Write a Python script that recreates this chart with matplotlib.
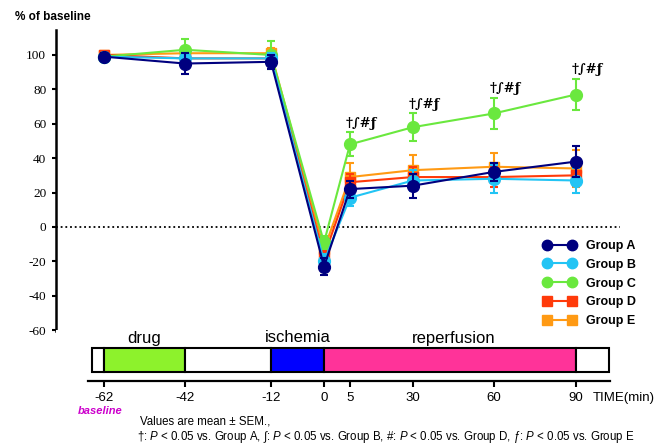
import numpy as np
import matplotlib
matplotlib.use("Agg")
import matplotlib.pyplot as plt
from matplotlib.patches import Rectangle
from matplotlib.lines import Line2D

plt.rcParams['font.family'] = ['Liberation Sans', 'DejaVu Sans']
plt.rcParams['mathtext.fontset'] = 'custom'
plt.rcParams['mathtext.it'] = 'Liberation Sans:italic'
plt.rcParams['mathtext.rm'] = 'Liberation Sans'
plt.rcParams['axes.unicode_minus'] = False

###############################################################################
# Data
###############################################################################
times = [-62, -42, -12, 0, 5, 30, 60, 90]

groupNames = ['Group A', 'Group B', 'Group C', 'Group D', 'Group E']
meanA = [99, 95, 96, -23, 22, 24, 32, 38]
semA = [2, 6, 4, 5, 5, 7, 5, 9]
meanB = [99, 98, 98, -20, 17, 27, 28, 27]
semB = [2, 3, 3, 4, 5, 6, 8, 7]
meanC = [99, 103, 100, -9, 48, 58, 66, 77]
semC = [2, 6, 8, 4, 7, 8, 9, 9]
meanD = [100, 98, 98, -17, 26, 29, 29, 30]
semD = [2, 3, 3, 4, 5, 6, 6, 6]
meanE = [100, 101, 101, -13, 29, 33, 35, 34]
semE = [2, 3, 3, 4, 8, 9, 8, 11]

sigTimes = [5, 30, 60, 90]
sigLabel = "\u2020\u222b#\u0192"

yTicks = [-60, -40, -20, 0, 20, 40, 60, 80, 100]

#Protocol bar: phase names and their edges in minutes
phaseNames = ['', 'drug', '', 'ischemia', 'reperfusion', '']
phaseEdges = [-65, -62, -42, -12, 0, 90, 102]

###############################################################################
# Style
###############################################################################
W, H = 665, 446
def fx(px):
    return px / W
def fy(px):
    return 1 - px / H

groupCols = ['#00007f', '#22c4f4', '#6ae83e', '#ff3a0a', '#ff9a14']
groupMarks = ['o', 'o', 'o', 's', 's']
phaseCols = ['white', '#8df22c', 'white', '#0000ff', '#ff3399', 'white']

#The time axis is not linear: knots of minutes vs pixels along the axis
T_KNOTS = [-74, -62, -42, -12, 0, 5, 30, 60, 90, 106]
U_KNOTS = [0, 48, 129, 215, 268, 294, 357, 438, 520, 564]

def fwd(t):
    return np.interp(t, T_KNOTS, U_KNOTS)
def inv(u):
    return np.interp(u, U_KNOTS, T_KNOTS)

fig = plt.figure(figsize=(6.65, 4.46), dpi=100)

###############################################################################
# Top panel
###############################################################################
ax = fig.add_axes([fx(56), fy(331), fx(620) - fx(56), (331 - 30) / H])
ax.set_xscale('function', functions=(fwd, inv))
ax.set_xlim(-74, 106)
ax.set_ylim(-60.5, 114.5)

means = [meanA, meanB, meanC, meanD, meanE]
sems = [semA, semB, semC, semD, semE]
order = [4, 3, 2, 1, 0]
for k, i in enumerate(order):
    ax.errorbar(times, means[i], yerr=sems[i],
                color=groupCols[i], marker=groupMarks[i],
                ms=8.5 if groupMarks[i] == 'o' else 7.5,
                mec=groupCols[i], lw=1.5, elinewidth=1.5,
                capsize=3, capthick=1.5, zorder=3 + k)

ax.axhline(0, color='black', lw=1.3, linestyle=(0, (1, 1.6)), zorder=2)

for t in sigTimes:
    j = times.index(t)
    ax.annotate(sigLabel, (t, meanC[j] + semC[j]),
                xytext=(-3, 2), textcoords='offset points',
                ha='left', va='bottom', fontsize=9.5,
                family=['DejaVu Serif'], weight='bold')

for s in ['top', 'right', 'bottom']:
    ax.spines[s].set_visible(False)
ax.spines['left'].set_linewidth(1.8)
ax.set_xticks([])
ax.set_yticks(yTicks)
ax.tick_params(axis='y', direction='out', length=3, width=1.5, pad=4)
for lab in ax.get_yticklabels():
    lab.set_family(['Liberation Serif', 'DejaVu Serif'])
    lab.set_fontsize(9.5)

fig.text(fx(15), fy(17), "% of baseline", ha='left', va='center',
         fontsize=8.5, weight='bold')

handles = [Line2D([], [], color=groupCols[i], marker=groupMarks[i],
                  ms=7.5 if groupMarks[i] == 'o' else 6.5,
                  mec=groupCols[i], lw=1.5) for i in range(5)]
ax.legend(handles, groupNames, loc='upper left',
          bbox_to_anchor=(fx(543), fy(240)), bbox_transform=fig.transFigure,
          frameon=False, numpoints=2, handlelength=2.6, handletextpad=0.8,
          labelspacing=0.54, borderpad=0, borderaxespad=0,
          prop={'weight': 'bold', 'size': 9})

###############################################################################
# Bottom panel: protocol bar and time axis
###############################################################################
axb = fig.add_axes([fx(56), fy(381), fx(620) - fx(56), (381 - 330) / H])
axb.set_xscale('function', functions=(fwd, inv))
axb.set_xlim(-74, 106)
axb.set_ylim(0, 51)

for n in range(len(phaseNames)):
    x0, x1 = phaseEdges[n], phaseEdges[n + 1]
    axb.add_patch(Rectangle((x0, 9), x1 - x0, 24, facecolor=phaseCols[n],
                            edgecolor='black', lw=1.5, zorder=2))
    if phaseNames[n]:
        axb.text((x0 + x1) / 2, 43, phaseNames[n], ha='center',
                 va='center', fontsize=12)

for s in ['top', 'right', 'left']:
    axb.spines[s].set_visible(False)
axb.spines['bottom'].set_bounds(-66, 102.5)
axb.spines['bottom'].set_linewidth(1.6)
axb.set_yticks([])
axb.set_xticks(times)
axb.set_xticklabels([str(t) for t in times])
axb.tick_params(axis='x', direction='out', length=4, width=1.5, pad=4,
                labelsize=9.5)

fig.text(fx(593), fy(398), "TIME(min)", ha='left', va='center', fontsize=9.5)
fig.text(fx(100), fy(411), "baseline", ha='center', va='center',
         fontsize=8, color='#cc00cc', weight='bold', style='italic')

fig.text(fx(140), fy(421), "Values are mean \u00b1 SEM.,", ha='left',
         va='center', fontsize=8.3)
fig.text(fx(137), fy(437),
         "\u2020: $P$ < 0.05 vs. Group A, \u222b: $P$ < 0.05 vs. Group B, "
         "#: $P$ < 0.05 vs. Group D, \u0192: $P$ < 0.05 vs. Group E",
         ha='left', va='center', fontsize=8.3)

fig.savefig("out.png", dpi=100)
